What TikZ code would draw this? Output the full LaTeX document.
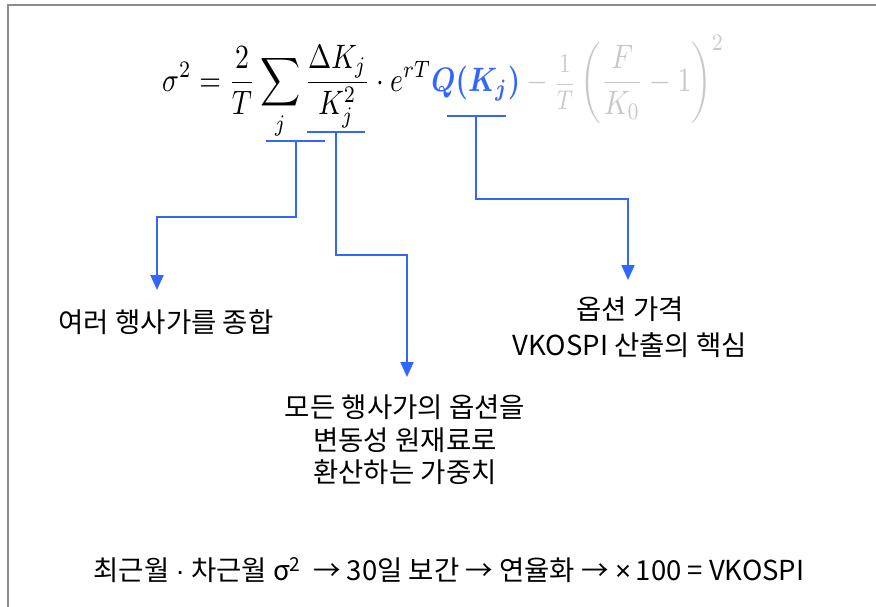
\documentclass[tikz,border=0pt]{standalone}
\usepackage{fontspec}
\usepackage{amsmath,amssymb,bm}
\usetikzlibrary{arrows.meta}
\newfontfamily\kr{Noto Sans CJK KR}
\newfontfamily\symf{Liberation Sans}
\definecolor{cblue}{RGB}{51,102,255}
\definecolor{cgray}{RGB}{200,200,200}
\definecolor{framegray}{RGB}{140,140,140}
\tikzset{
  bracketline/.style={cblue, line width=2pt},
  connline/.style={cblue, line width=2.2pt, -{Triangle[width=13pt,length=15pt]}},
  label/.style={font=\kr\fontsize{27.5}{38}\selectfont, align=center, inner sep=0pt},
}
\begin{document}
\begin{tikzpicture}[x=1pt,y=-1pt]
\useasboundingbox (0,0) rectangle (876,607);
\draw[framegray, line width=1.8pt] (8,607) -- (8,5) -- (876,5);
% formula
\node[anchor=west, inner sep=0pt] (eq) at (162,87) {\resizebox*{562pt}{104pt}{$\displaystyle \sigma^2=\frac{2}{T}\sum_j\frac{\Delta K_j}{K_j^2}\cdot e^{rT}\textcolor{cblue}{\bm{Q(K_j)}}\textcolor{cgray}{{}-\vcenter{\hbox{\scalebox{0.8}{$\displaystyle\frac{1}{T}$}}}\left(\frac{F}{K_0}-1\right)^{2}}$}};
% bracket coordinates
\coordinate (b1l) at (266,141); \coordinate (b1r) at (325,141); \coordinate (b1m) at (296,141);
\coordinate (e1) at (296,217); \coordinate (a1) at (157,290);
\coordinate (b2l) at (307,132); \coordinate (b2r) at (365,132); \coordinate (b2m) at (336,132);
\coordinate (e2) at (336,255); \coordinate (a2) at (407,377);
\coordinate (b3l) at (447,116); \coordinate (b3r) at (506,116); \coordinate (b3m) at (476,116);
\coordinate (e3) at (476,199); \coordinate (a3) at (628,280);
\draw[bracketline] (b1l) -- (b1r);
\draw[bracketline] (b2l) -- (b2r);
\draw[bracketline] (b3l) -- (b3r);
\draw[connline] (b1m) -- (e1) -| (a1);
\draw[connline] (b2m) -- (e2) -| (a2);
\draw[connline] (b3m) -- (e3) -| (a3);
% labels
\node[label] (t1) at (166,322) {여러 행사가를 종합};
\node[label, font=\kr\fontsize{27.5}{32.5}\selectfont] (t2) at (405,440) {모든 행사가의 옵션을\\변동성 원재료로\\환산하는 가중치};
\node[label, font=\kr\fontsize{27.5}{36.5}\selectfont] (t3) at (630,327) {옵션 가격\\VKOSPI 산출의 핵심};
\node[label] (bot) at (449,570) {최근월 {\symf·} 차근월 σ\textsuperscript{2}\ \ → 30일 보간 → 연율화 → {\symf×}\,100 = VKOSPI};
\end{tikzpicture}
\end{document}
